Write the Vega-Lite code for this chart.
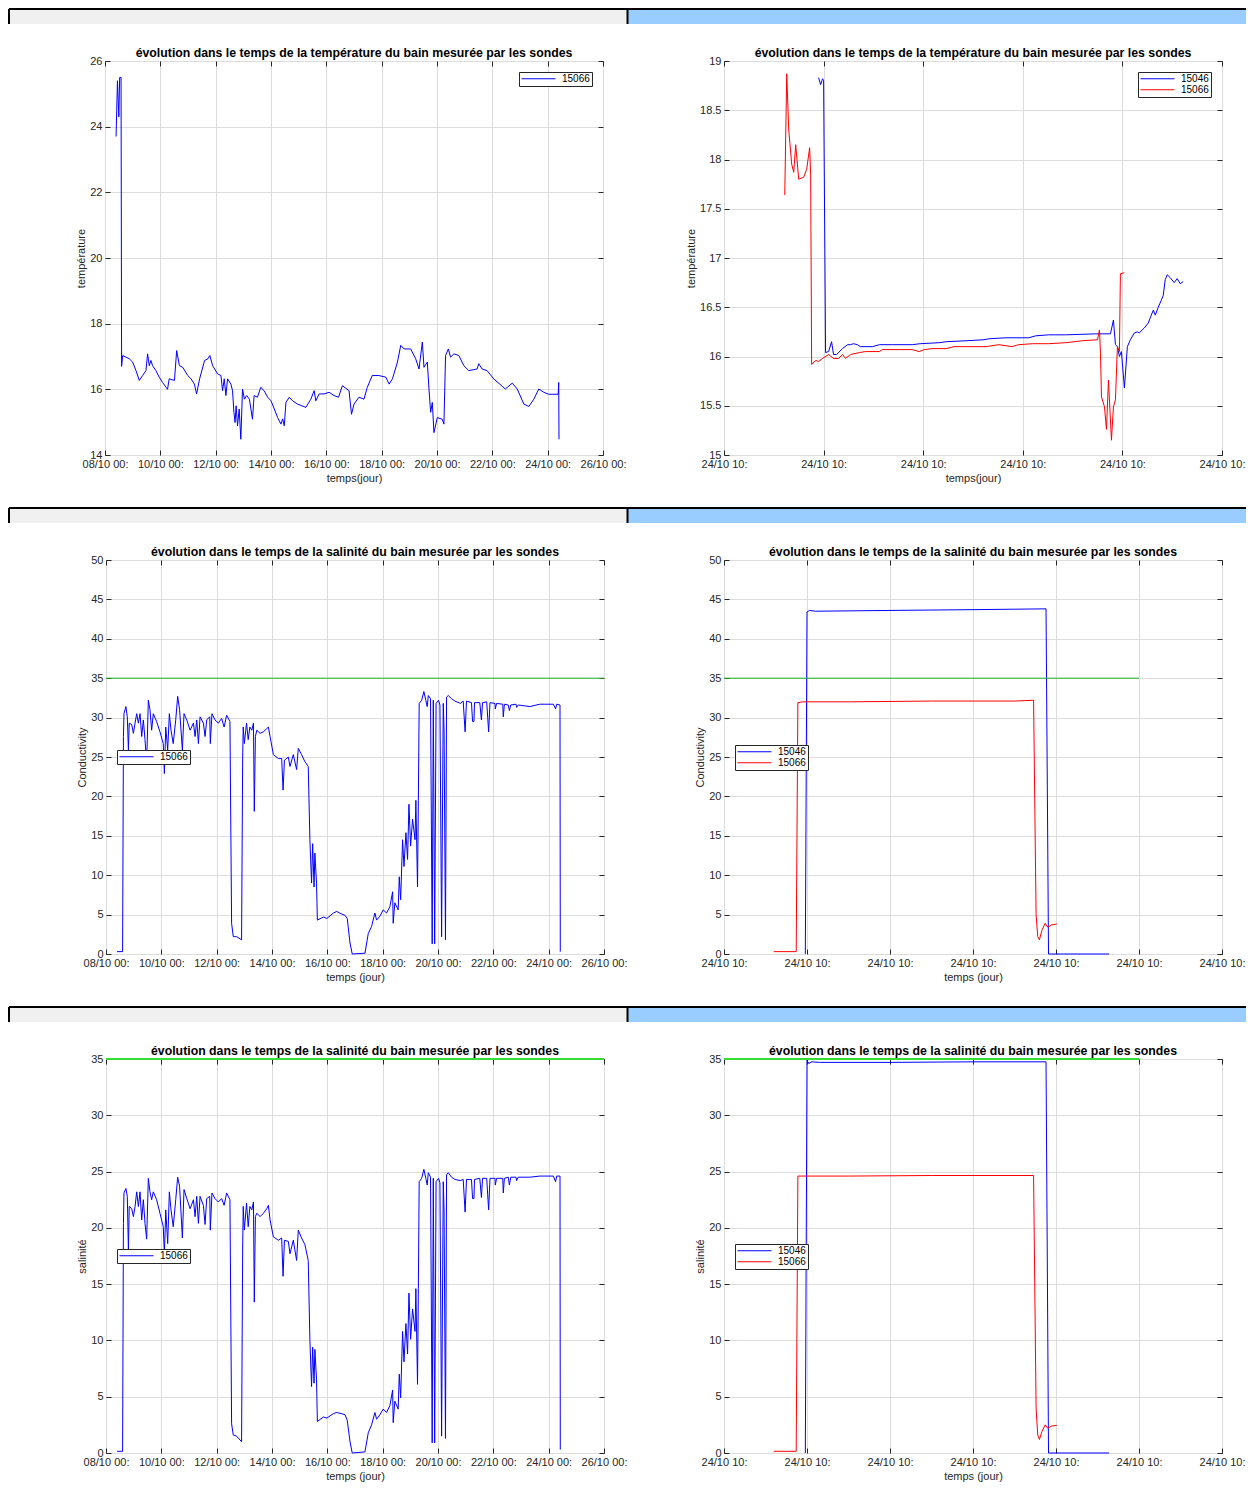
{
"$schema": "https://vega.github.io/schema/vega-lite/v6.json",
"background": "white",
"padding": {"left": 8, "top": 8, "right": 0, "bottom": 0},
"config": {
 "font": "Liberation Sans",
 "view": {"stroke": "#262626", "strokeWidth": 1},
 "axis": {"domain": false, "grid": true, "gridColor": "#dcdcdc", "gridWidth": 1, "tickColor": "#262626", "tickSize": -5, "tickWidth": 1, "labelFont": "Liberation Sans", "labelFontSize": 11, "labelColor": "#262626", "labelPadding": 8, "labelFlush": false, "labelOverlap": false, "titleFont": "Liberation Sans", "titleFontSize": 11, "titleFontWeight": "normal", "titleColor": "#262626", "titlePadding": 3, "format": "~g"},
 "title": {"font": "Liberation Sans", "fontSize": 12.3, "fontWeight": "bold", "color": "#000000", "offset": -4, "anchor": "middle"},
 "legend": {"strokeColor": "#262626", "fillColor": "white", "padding": 2, "symbolSize": 1156, "symbolStrokeWidth": 1, "labelFont": "Liberation Sans", "labelFontSize": 10, "labelColor": "#000000", "labelOffset": 6, "rowPadding": 0, "clipHeight": 9.5}
},
"datasets": {
 "tempG": [
  {"jour":0.40,"valeur":23.7},{"jour":0.45,"valeur":25.4},{"jour":0.50,"valeur":24.3},{"jour":0.53,"valeur":25.5},{"jour":0.58,"valeur":25.5},{"jour":0.60,"valeur":16.7},
  {"jour":0.64,"valeur":17.03},{"jour":0.88,"valeur":16.93},{"jour":1.00,"valeur":16.83},{"jour":1.12,"valeur":16.57},{"jour":1.24,"valeur":16.27},{"jour":1.36,"valeur":16.42},
  {"jour":1.48,"valeur":16.57},{"jour":1.54,"valeur":17.08},{"jour":1.60,"valeur":16.72},{"jour":1.66,"valeur":16.88},{"jour":1.72,"valeur":16.72},{"jour":1.84,"valeur":16.57},
  {"jour":1.96,"valeur":16.37},{"jour":2.08,"valeur":16.21},{"jour":2.26,"valeur":16.0},{"jour":2.32,"valeur":16.32},{"jour":2.51,"valeur":16.27},{"jour":2.59,"valeur":17.18},
  {"jour":2.69,"valeur":16.72},{"jour":2.81,"valeur":16.67},{"jour":2.99,"valeur":16.42},{"jour":3.11,"valeur":16.32},{"jour":3.23,"valeur":16.16},{"jour":3.31,"valeur":15.86},
  {"jour":3.42,"valeur":16.32},{"jour":3.60,"valeur":16.88},{"jour":3.72,"valeur":16.93},{"jour":3.79,"valeur":17.03},{"jour":3.89,"valeur":16.72},{"jour":4.07,"valeur":16.47},
  {"jour":4.19,"valeur":16.42},{"jour":4.25,"valeur":15.96},{"jour":4.31,"valeur":16.32},{"jour":4.37,"valeur":15.81},{"jour":4.43,"valeur":16.32},{"jour":4.55,"valeur":16.16},
  {"jour":4.61,"valeur":15.96},{"jour":4.66,"valeur":15.3},{"jour":4.70,"valeur":14.99},{"jour":4.74,"valeur":15.5},{"jour":4.79,"valeur":14.89},{"jour":4.85,"valeur":15.4},{"jour":4.91,"valeur":14.48},
  {"jour":4.97,"valeur":16.01},{"jour":5.04,"valeur":15.7},{"jour":5.12,"valeur":15.81},{"jour":5.22,"valeur":15.7},{"jour":5.33,"valeur":15.09},{"jour":5.39,"valeur":15.81},
  {"jour":5.51,"valeur":15.76},{"jour":5.63,"valeur":16.06},{"jour":5.75,"valeur":15.96},{"jour":5.88,"valeur":15.76},{"jour":6.00,"valeur":15.65},{"jour":6.12,"valeur":15.4},
  {"jour":6.24,"valeur":15.14},{"jour":6.36,"valeur":14.94},{"jour":6.42,"valeur":15.1},{"jour":6.48,"valeur":14.89},{"jour":6.54,"valeur":15.6},{"jour":6.66,"valeur":15.76},
  {"jour":6.78,"valeur":15.65},{"jour":6.96,"valeur":15.55},{"jour":7.26,"valeur":15.45},{"jour":7.44,"valeur":15.7},{"jour":7.56,"valeur":15.96},{"jour":7.62,"valeur":15.65},
  {"jour":7.74,"valeur":15.86},{"jour":7.92,"valeur":15.86},{"jour":8.10,"valeur":15.91},{"jour":8.28,"valeur":15.81},{"jour":8.44,"valeur":15.76},{"jour":8.58,"valeur":16.11},
  {"jour":8.82,"valeur":15.96},{"jour":8.91,"valeur":15.24},{"jour":9.00,"valeur":15.55},{"jour":9.18,"valeur":15.76},{"jour":9.36,"valeur":15.7},{"jour":9.48,"valeur":16.06},
  {"jour":9.66,"valeur":16.42},{"jour":9.90,"valeur":16.42},{"jour":10.15,"valeur":16.37},{"jour":10.27,"valeur":16.16},{"jour":10.39,"valeur":16.32},{"jour":10.57,"valeur":16.83},
  {"jour":10.69,"valeur":17.34},{"jour":10.81,"valeur":17.23},{"jour":11.05,"valeur":17.23},{"jour":11.23,"valeur":16.93},{"jour":11.35,"valeur":16.62},{"jour":11.47,"valeur":17.44},
  {"jour":11.53,"valeur":16.67},{"jour":11.65,"valeur":16.83},{"jour":11.71,"valeur":16.01},{"jour":11.77,"valeur":15.3},{"jour":11.83,"valeur":15.6},{"jour":11.89,"valeur":14.68},{"jour":12.01,"valeur":15.14},
  {"jour":12.19,"valeur":15.09},{"jour":12.25,"valeur":14.94},{"jour":12.31,"valeur":17.03},{"jour":12.41,"valeur":17.23},{"jour":12.49,"valeur":16.98},{"jour":12.61,"valeur":17.08},
  {"jour":12.79,"valeur":17.03},{"jour":12.97,"valeur":16.72},{"jour":13.15,"valeur":16.57},{"jour":13.45,"valeur":16.62},{"jour":13.51,"valeur":16.78},{"jour":13.63,"valeur":16.62},
  {"jour":13.81,"valeur":16.57},{"jour":14.05,"valeur":16.32},{"jour":14.47,"valeur":16.01},{"jour":14.72,"valeur":16.19},{"jour":14.90,"valeur":16.01},{"jour":15.14,"valeur":15.55},
  {"jour":15.32,"valeur":15.48},{"jour":15.50,"valeur":15.7},{"jour":15.68,"valeur":16.01},{"jour":15.86,"valeur":15.91},{"jour":16.04,"valeur":15.85},{"jour":16.38,"valeur":15.85},
  {"jour":16.40,"valeur":16.21},{"jour":16.41,"valeur":14.48}
 ],
 "condG": [
  {"jour":0.40,"valeur":0.3},{"jour":0.60,"valeur":0.3},{"jour":0.63,"valeur":27.6},{"jour":0.65,"valeur":30.5},{"jour":0.72,"valeur":31.4},{"jour":0.77,"valeur":30.1},
  {"jour":0.81,"valeur":25.9},{"jour":0.84,"valeur":29.3},{"jour":0.93,"valeur":29.1},{"jour":0.99,"valeur":28.0},{"jour":1.05,"valeur":29.3},{"jour":1.11,"valeur":30.5},
  {"jour":1.17,"valeur":29.3},{"jour":1.23,"valeur":30.5},{"jour":1.29,"valeur":27.6},{"jour":1.35,"valeur":29.7},{"jour":1.41,"valeur":27.2},{"jour":1.47,"valeur":24.2},
  {"jour":1.53,"valeur":32.2},{"jour":1.59,"valeur":31.0},{"jour":1.65,"valeur":28.4},{"jour":1.71,"valeur":30.5},{"jour":1.83,"valeur":29.5},{"jour":1.95,"valeur":28.2},
  {"jour":2.07,"valeur":26.7},{"jour":2.11,"valeur":22.9},{"jour":2.16,"valeur":28.8},{"jour":2.23,"valeur":25.9},{"jour":2.29,"valeur":30.5},{"jour":2.35,"valeur":28.4},
  {"jour":2.43,"valeur":26.7},{"jour":2.52,"valeur":29.7},{"jour":2.59,"valeur":32.7},{"jour":2.66,"valeur":31.0},{"jour":2.76,"valeur":25.9},{"jour":2.82,"valeur":30.5},
  {"jour":2.92,"valeur":29.7},{"jour":3.04,"valeur":28.4},{"jour":3.16,"valeur":29.3},{"jour":3.22,"valeur":27.6},{"jour":3.28,"valeur":29.7},{"jour":3.34,"valeur":26.7},
  {"jour":3.40,"valeur":30.1},{"jour":3.52,"valeur":29.3},{"jour":3.58,"valeur":27.6},{"jour":3.64,"valeur":29.7},{"jour":3.75,"valeur":30.1},{"jour":3.77,"valeur":26.7},
  {"jour":3.83,"valeur":30.5},{"jour":3.94,"valeur":29.7},{"jour":4.06,"valeur":29.3},{"jour":4.18,"valeur":29.9},{"jour":4.27,"valeur":28.8},{"jour":4.36,"valeur":30.3},
  {"jour":4.48,"valeur":29.5},{"jour":4.54,"valeur":3.9},{"jour":4.60,"valeur":2.2},{"jour":4.72,"valeur":2.2},{"jour":4.90,"valeur":1.8},{"jour":4.94,"valeur":25.0},
  {"jour":4.96,"valeur":28.8},{"jour":5.00,"valeur":26.7},{"jour":5.08,"valeur":29.3},{"jour":5.14,"valeur":27.2},{"jour":5.20,"valeur":28.8},{"jour":5.27,"valeur":28.4},
  {"jour":5.33,"valeur":29.3},{"jour":5.36,"valeur":18.1},{"jour":5.40,"valeur":27.6},{"jour":5.45,"valeur":28.4},{"jour":5.57,"valeur":28.0},{"jour":5.69,"valeur":28.2},
  {"jour":5.81,"valeur":28.6},{"jour":5.87,"valeur":28.8},{"jour":5.93,"valeur":27.6},{"jour":6.05,"valeur":25.3},{"jour":6.23,"valeur":24.8},{"jour":6.35,"valeur":24.8},
  {"jour":6.40,"valeur":20.8},{"jour":6.45,"valeur":24.6},{"jour":6.59,"valeur":25.0},{"jour":6.65,"valeur":23.8},{"jour":6.77,"valeur":25.3},{"jour":6.89,"valeur":23.4},
  {"jour":6.95,"valeur":26.1},{"jour":7.07,"valeur":25.3},{"jour":7.19,"valeur":24.4},{"jour":7.31,"valeur":23.8},{"jour":7.37,"valeur":14.5},{"jour":7.43,"valeur":9.0},
  {"jour":7.47,"valeur":14.0},{"jour":7.52,"valeur":8.5},{"jour":7.55,"valeur":12.8},{"jour":7.61,"valeur":9.0},{"jour":7.64,"valeur":4.3},{"jour":7.86,"valeur":4.7},
  {"jour":7.98,"valeur":4.5},{"jour":8.22,"valeur":5.2},{"jour":8.34,"valeur":5.4},{"jour":8.50,"valeur":5.1},{"jour":8.64,"valeur":4.9},{"jour":8.72,"valeur":4.5},
  {"jour":8.82,"valeur":1.4},{"jour":8.90,"valeur":0.0},{"jour":9.36,"valeur":0.1},{"jour":9.48,"valeur":2.6},{"jour":9.60,"valeur":3.5},{"jour":9.72,"valeur":5.2},
  {"jour":9.78,"valeur":4.3},{"jour":9.90,"valeur":4.8},{"jour":10.02,"valeur":5.6},{"jour":10.14,"valeur":5.2},{"jour":10.26,"valeur":6.0},{"jour":10.36,"valeur":7.9},
  {"jour":10.38,"valeur":3.9},{"jour":10.44,"valeur":6.5},{"jour":10.56,"valeur":5.6},{"jour":10.60,"valeur":9.8},{"jour":10.65,"valeur":6.9},{"jour":10.72,"valeur":14.5},
  {"jour":10.77,"valeur":11.1},{"jour":10.84,"valeur":15.4},{"jour":10.90,"valeur":12.0},{"jour":10.95,"valeur":19.0},{"jour":11.01,"valeur":13.7},{"jour":11.08,"valeur":17.1},
  {"jour":11.17,"valeur":14.5},{"jour":11.20,"valeur":19.5},{"jour":11.26,"valeur":8.5},{"jour":11.29,"valeur":19.5},{"jour":11.32,"valeur":31.8},{"jour":11.41,"valeur":32.2},
  {"jour":11.49,"valeur":33.3},{"jour":11.56,"valeur":32.2},{"jour":11.61,"valeur":31.4},{"jour":11.65,"valeur":32.8},{"jour":11.73,"valeur":32.4},{"jour":11.79,"valeur":1.3},
  {"jour":11.83,"valeur":32.2},{"jour":11.88,"valeur":1.3},{"jour":11.93,"valeur":31.8},{"jour":12.02,"valeur":32.2},{"jour":12.07,"valeur":31.6},{"jour":12.13,"valeur":2.2},
  {"jour":12.19,"valeur":31.8},{"jour":12.22,"valeur":28.4},{"jour":12.27,"valeur":1.8},{"jour":12.31,"valeur":32.6},{"jour":12.37,"valeur":32.8},{"jour":12.49,"valeur":32.4},
  {"jour":12.61,"valeur":32.1},{"jour":12.81,"valeur":31.8},{"jour":12.91,"valeur":32.1},{"jour":12.98,"valeur":28.2},{"jour":13.03,"valeur":32.1},{"jour":13.21,"valeur":31.9},
  {"jour":13.25,"valeur":29.5},{"jour":13.30,"valeur":29.5},{"jour":13.32,"valeur":31.9},{"jour":13.51,"valeur":31.9},{"jour":13.57,"valeur":29.7},{"jour":13.61,"valeur":31.9},
  {"jour":13.76,"valeur":32.0},{"jour":13.83,"valeur":28.2},{"jour":13.88,"valeur":31.9},{"jour":14.06,"valeur":31.8},{"jour":14.07,"valeur":31.1},{"jour":14.12,"valeur":31.8},
  {"jour":14.34,"valeur":31.7},{"jour":14.36,"valeur":30.1},{"jour":14.40,"valeur":31.7},{"jour":14.54,"valeur":31.6},{"jour":14.58,"valeur":30.9},{"jour":14.63,"valeur":31.6},
  {"jour":14.82,"valeur":31.7},{"jour":14.84,"valeur":31.3},{"jour":14.90,"valeur":31.6},{"jour":15.32,"valeur":31.4},{"jour":15.68,"valeur":31.7},{"jour":16.17,"valeur":31.7},
  {"jour":16.25,"valeur":31.1},{"jour":16.29,"valeur":31.7},{"jour":16.41,"valeur":31.6},{"jour":16.42,"valeur":0.3}
 ],
 "salG": [
  {"jour":0.40,"valeur":0.15},{"jour":0.60,"valeur":0.15},{"jour":0.63,"valeur":20.4},{"jour":0.65,"valeur":23.1},{"jour":0.72,"valeur":23.5},{"jour":0.77,"valeur":22.8},
  {"jour":0.81,"valeur":18.0},{"jour":0.84,"valeur":21.9},{"jour":0.93,"valeur":21.7},{"jour":0.99,"valeur":21.0},{"jour":1.05,"valeur":21.9},{"jour":1.11,"valeur":23.2},
  {"jour":1.17,"valeur":21.9},{"jour":1.23,"valeur":23.2},{"jour":1.29,"valeur":20.7},{"jour":1.35,"valeur":22.5},{"jour":1.41,"valeur":20.4},{"jour":1.47,"valeur":19.0},
  {"jour":1.53,"valeur":24.4},{"jour":1.59,"valeur":23.2},{"jour":1.65,"valeur":22.5},{"jour":1.71,"valeur":23.2},{"jour":1.83,"valeur":22.5},{"jour":1.95,"valeur":21.3},
  {"jour":2.07,"valeur":20.1},{"jour":2.11,"valeur":17.6},{"jour":2.16,"valeur":21.6},{"jour":2.23,"valeur":18.6},{"jour":2.29,"valeur":23.2},{"jour":2.35,"valeur":21.6},
  {"jour":2.43,"valeur":20.1},{"jour":2.52,"valeur":22.5},{"jour":2.59,"valeur":24.5},{"jour":2.66,"valeur":23.7},{"jour":2.76,"valeur":19.1},{"jour":2.82,"valeur":23.4},
  {"jour":2.92,"valeur":22.6},{"jour":3.04,"valeur":21.7},{"jour":3.16,"valeur":22.5},{"jour":3.22,"valeur":21.0},{"jour":3.28,"valeur":22.8},{"jour":3.34,"valeur":20.4},
  {"jour":3.40,"valeur":22.8},{"jour":3.52,"valeur":22.0},{"jour":3.58,"valeur":20.3},{"jour":3.64,"valeur":22.6},{"jour":3.75,"valeur":22.8},{"jour":3.77,"valeur":19.8},
  {"jour":3.83,"valeur":23.1},{"jour":3.94,"valeur":22.6},{"jour":4.06,"valeur":22.3},{"jour":4.18,"valeur":22.6},{"jour":4.27,"valeur":22.0},{"jour":4.36,"valeur":23.1},
  {"jour":4.48,"valeur":22.5},{"jour":4.54,"valeur":2.6},{"jour":4.60,"valeur":1.6},{"jour":4.72,"valeur":1.5},{"jour":4.90,"valeur":1.0},{"jour":4.94,"valeur":18.3},
  {"jour":4.96,"valeur":21.9},{"jour":5.00,"valeur":19.8},{"jour":5.08,"valeur":22.2},{"jour":5.14,"valeur":20.1},{"jour":5.20,"valeur":21.9},{"jour":5.27,"valeur":21.6},
  {"jour":5.33,"valeur":22.3},{"jour":5.36,"valeur":13.4},{"jour":5.40,"valeur":21.0},{"jour":5.45,"valeur":21.3},{"jour":5.57,"valeur":21.0},{"jour":5.69,"valeur":21.3},
  {"jour":5.81,"valeur":21.7},{"jour":5.87,"valeur":22.0},{"jour":5.93,"valeur":20.7},{"jour":6.05,"valeur":19.2},{"jour":6.23,"valeur":18.9},{"jour":6.35,"valeur":19.1},
  {"jour":6.40,"valeur":15.7},{"jour":6.45,"valeur":18.9},{"jour":6.59,"valeur":18.8},{"jour":6.65,"valeur":17.7},{"jour":6.77,"valeur":18.9},{"jour":6.89,"valeur":17.1},
  {"jour":6.95,"valeur":19.8},{"jour":7.07,"valeur":19.1},{"jour":7.19,"valeur":18.5},{"jour":7.31,"valeur":17.1},{"jour":7.37,"valeur":10.0},{"jour":7.43,"valeur":5.9},
  {"jour":7.47,"valeur":9.4},{"jour":7.52,"valeur":6.2},{"jour":7.55,"valeur":9.2},{"jour":7.61,"valeur":6.5},{"jour":7.64,"valeur":2.8},{"jour":7.86,"valeur":3.2},
  {"jour":7.98,"valeur":3.1},{"jour":8.22,"valeur":3.5},{"jour":8.34,"valeur":3.6},{"jour":8.50,"valeur":3.5},{"jour":8.64,"valeur":3.4},{"jour":8.72,"valeur":2.9},
  {"jour":8.82,"valeur":1.0},{"jour":8.90,"valeur":0.0},{"jour":9.36,"valeur":0.1},{"jour":9.48,"valeur":1.8},{"jour":9.60,"valeur":2.5},{"jour":9.72,"valeur":3.6},
  {"jour":9.78,"valeur":3.0},{"jour":9.90,"valeur":3.4},{"jour":10.02,"valeur":3.9},{"jour":10.14,"valeur":3.6},{"jour":10.26,"valeur":4.2},{"jour":10.36,"valeur":5.6},
  {"jour":10.38,"valeur":2.7},{"jour":10.44,"valeur":4.6},{"jour":10.56,"valeur":3.9},{"jour":10.60,"valeur":7.0},{"jour":10.65,"valeur":4.9},{"jour":10.72,"valeur":10.8},
  {"jour":10.77,"valeur":8.1},{"jour":10.84,"valeur":11.5},{"jour":10.90,"valeur":8.8},{"jour":10.95,"valeur":14.2},{"jour":11.01,"valeur":10.1},{"jour":11.08,"valeur":12.8},
  {"jour":11.17,"valeur":10.8},{"jour":11.20,"valeur":14.6},{"jour":11.26,"valeur":6.1},{"jour":11.29,"valeur":14.6},{"jour":11.32,"valeur":24.1},{"jour":11.41,"valeur":24.4},
  {"jour":11.49,"valeur":25.2},{"jour":11.56,"valeur":24.4},{"jour":11.61,"valeur":23.8},{"jour":11.65,"valeur":24.9},{"jour":11.73,"valeur":24.5},{"jour":11.79,"valeur":0.9},
  {"jour":11.83,"valeur":24.4},{"jour":11.88,"valeur":0.9},{"jour":11.93,"valeur":24.1},{"jour":12.02,"valeur":24.4},{"jour":12.07,"valeur":24.0},{"jour":12.13,"valeur":1.5},
  {"jour":12.19,"valeur":24.1},{"jour":12.22,"valeur":21.5},{"jour":12.27,"valeur":1.3},{"jour":12.31,"valeur":24.7},{"jour":12.37,"valeur":24.9},{"jour":12.49,"valeur":24.5},
  {"jour":12.61,"valeur":24.3},{"jour":12.81,"valeur":24.2},{"jour":12.91,"valeur":24.3},{"jour":12.98,"valeur":21.4},{"jour":13.03,"valeur":24.3},{"jour":13.21,"valeur":24.3},
  {"jour":13.25,"valeur":22.6},{"jour":13.30,"valeur":22.6},{"jour":13.32,"valeur":24.3},{"jour":13.51,"valeur":24.4},{"jour":13.57,"valeur":22.7},{"jour":13.61,"valeur":24.4},
  {"jour":13.76,"valeur":24.4},{"jour":13.83,"valeur":21.6},{"jour":13.88,"valeur":24.4},{"jour":14.06,"valeur":24.4},{"jour":14.07,"valeur":23.8},{"jour":14.12,"valeur":24.4},
  {"jour":14.34,"valeur":24.4},{"jour":14.36,"valeur":23.1},{"jour":14.40,"valeur":24.4},{"jour":14.54,"valeur":24.5},{"jour":14.58,"valeur":23.8},{"jour":14.63,"valeur":24.5},
  {"jour":14.82,"valeur":24.5},{"jour":14.84,"valeur":24.2},{"jour":14.90,"valeur":24.5},{"jour":15.32,"valeur":24.5},{"jour":15.68,"valeur":24.6},{"jour":16.17,"valeur":24.6},
  {"jour":16.25,"valeur":24.1},{"jour":16.29,"valeur":24.6},{"jour":16.41,"valeur":24.6},{"jour":16.42,"valeur":0.3}
 ],
 "tempD": [
  {"temps":0.95,"sonde":"15046","valeur":18.83},{"temps":0.97,"sonde":"15046","valeur":18.76},{"temps":0.99,"sonde":"15046","valeur":18.82},{"temps":1.00,"sonde":"15046","valeur":18.8},
  {"temps":1.02,"sonde":"15046","valeur":16.04},{"temps":1.05,"sonde":"15046","valeur":16.05},{"temps":1.08,"sonde":"15046","valeur":16.15},{"temps":1.10,"sonde":"15046","valeur":16.02},
  {"temps":1.13,"sonde":"15046","valeur":16.02},{"temps":1.19,"sonde":"15046","valeur":16.08},{"temps":1.24,"sonde":"15046","valeur":16.12},{"temps":1.27,"sonde":"15046","valeur":16.12},
  {"temps":1.30,"sonde":"15046","valeur":16.13},{"temps":1.34,"sonde":"15046","valeur":16.12},{"temps":1.37,"sonde":"15046","valeur":16.1},{"temps":1.49,"sonde":"15046","valeur":16.1},
  {"temps":1.56,"sonde":"15046","valeur":16.12},{"temps":1.69,"sonde":"15046","valeur":16.12},{"temps":1.89,"sonde":"15046","valeur":16.12},{"temps":1.97,"sonde":"15046","valeur":16.13},
  {"temps":2.16,"sonde":"15046","valeur":16.14},{"temps":2.23,"sonde":"15046","valeur":16.15},{"temps":2.43,"sonde":"15046","valeur":16.16},{"temps":2.61,"sonde":"15046","valeur":16.17},
  {"temps":2.66,"sonde":"15046","valeur":16.18},{"temps":2.83,"sonde":"15046","valeur":16.19},{"temps":3.06,"sonde":"15046","valeur":16.19},{"temps":3.13,"sonde":"15046","valeur":16.21},
  {"temps":3.26,"sonde":"15046","valeur":16.22},{"temps":3.43,"sonde":"15046","valeur":16.22},{"temps":3.73,"sonde":"15046","valeur":16.23},{"temps":3.88,"sonde":"15046","valeur":16.23},
  {"temps":3.91,"sonde":"15046","valeur":16.37},{"temps":3.93,"sonde":"15046","valeur":16.12},{"temps":3.95,"sonde":"15046","valeur":16.1},{"temps":3.97,"sonde":"15046","valeur":16.0},
  {"temps":3.99,"sonde":"15046","valeur":16.05},{"temps":4.02,"sonde":"15046","valeur":15.68},{"temps":4.05,"sonde":"15046","valeur":16.1},{"temps":4.08,"sonde":"15046","valeur":16.17},
  {"temps":4.12,"sonde":"15046","valeur":16.24},{"temps":4.15,"sonde":"15046","valeur":16.25},{"temps":4.17,"sonde":"15046","valeur":16.24},{"temps":4.22,"sonde":"15046","valeur":16.29},
  {"temps":4.26,"sonde":"15046","valeur":16.34},{"temps":4.29,"sonde":"15046","valeur":16.42},{"temps":4.31,"sonde":"15046","valeur":16.47},{"temps":4.33,"sonde":"15046","valeur":16.42},
  {"temps":4.36,"sonde":"15046","valeur":16.5},{"temps":4.39,"sonde":"15046","valeur":16.57},{"temps":4.41,"sonde":"15046","valeur":16.62},{"temps":4.43,"sonde":"15046","valeur":16.78},
  {"temps":4.45,"sonde":"15046","valeur":16.83},{"temps":4.48,"sonde":"15046","valeur":16.8},{"temps":4.52,"sonde":"15046","valeur":16.75},{"temps":4.55,"sonde":"15046","valeur":16.79},
  {"temps":4.58,"sonde":"15046","valeur":16.74},{"temps":4.61,"sonde":"15046","valeur":16.76},
  {"temps":0.61,"sonde":"15066","valeur":17.64},{"temps":0.63,"sonde":"15066","valeur":18.87},{"temps":0.65,"sonde":"15066","valeur":18.3},{"temps":0.68,"sonde":"15066","valeur":17.95},
  {"temps":0.70,"sonde":"15066","valeur":17.87},{"temps":0.72,"sonde":"15066","valeur":18.15},{"temps":0.75,"sonde":"15066","valeur":17.8},{"temps":0.80,"sonde":"15066","valeur":17.82},
  {"temps":0.83,"sonde":"15066","valeur":17.9},{"temps":0.86,"sonde":"15066","valeur":18.12},{"temps":0.87,"sonde":"15066","valeur":17.85},{"temps":0.88,"sonde":"15066","valeur":15.92},
  {"temps":0.92,"sonde":"15066","valeur":15.96},{"temps":0.95,"sonde":"15066","valeur":15.95},{"temps":0.99,"sonde":"15066","valeur":15.98},{"temps":1.05,"sonde":"15066","valeur":16.02},
  {"temps":1.10,"sonde":"15066","valeur":15.98},{"temps":1.15,"sonde":"15066","valeur":15.98},{"temps":1.19,"sonde":"15066","valeur":16.02},{"temps":1.22,"sonde":"15066","valeur":15.98},
  {"temps":1.27,"sonde":"15066","valeur":16.02},{"temps":1.36,"sonde":"15066","valeur":16.04},{"temps":1.42,"sonde":"15066","valeur":16.05},{"temps":1.56,"sonde":"15066","valeur":16.05},
  {"temps":1.59,"sonde":"15066","valeur":16.07},{"temps":1.76,"sonde":"15066","valeur":16.07},{"temps":1.89,"sonde":"15066","valeur":16.07},{"temps":1.96,"sonde":"15066","valeur":16.05},
  {"temps":2.01,"sonde":"15066","valeur":16.07},{"temps":2.09,"sonde":"15066","valeur":16.08},{"temps":2.23,"sonde":"15066","valeur":16.08},{"temps":2.31,"sonde":"15066","valeur":16.1},
  {"temps":2.39,"sonde":"15066","valeur":16.1},{"temps":2.53,"sonde":"15066","valeur":16.1},{"temps":2.63,"sonde":"15066","valeur":16.1},{"temps":2.76,"sonde":"15066","valeur":16.12},
  {"temps":2.89,"sonde":"15066","valeur":16.1},{"temps":2.96,"sonde":"15066","valeur":16.12},{"temps":3.10,"sonde":"15066","valeur":16.13},{"temps":3.26,"sonde":"15066","valeur":16.13},
  {"temps":3.43,"sonde":"15066","valeur":16.14},{"temps":3.60,"sonde":"15066","valeur":16.16},{"temps":3.75,"sonde":"15066","valeur":16.17},{"temps":3.77,"sonde":"15066","valeur":16.27},
  {"temps":3.78,"sonde":"15066","valeur":16.03},{"temps":3.79,"sonde":"15066","valeur":15.59},{"temps":3.82,"sonde":"15066","valeur":15.49},{"temps":3.84,"sonde":"15066","valeur":15.26},
  {"temps":3.86,"sonde":"15066","valeur":15.76},{"temps":3.89,"sonde":"15066","valeur":15.15},{"temps":3.91,"sonde":"15066","valeur":15.49},{"temps":3.93,"sonde":"15066","valeur":15.56},
  {"temps":3.95,"sonde":"15066","valeur":16.1},{"temps":3.97,"sonde":"15066","valeur":16.05},{"temps":3.98,"sonde":"15066","valeur":16.84},{"temps":4.02,"sonde":"15066","valeur":16.85}
 ],
 "condD": [
  {"temps":0.98,"sonde":"15046","valeur":0.0},{"temps":1.00,"sonde":"15046","valeur":43.4},{"temps":1.03,"sonde":"15046","valeur":43.6},{"temps":1.10,"sonde":"15046","valeur":43.5},
  {"temps":2.00,"sonde":"15046","valeur":43.6},{"temps":3.00,"sonde":"15046","valeur":43.7},{"temps":3.88,"sonde":"15046","valeur":43.8},{"temps":3.91,"sonde":"15046","valeur":0.0},
  {"temps":4.64,"sonde":"15046","valeur":0.0},
  {"temps":0.60,"sonde":"15066","valeur":0.3},{"temps":0.87,"sonde":"15066","valeur":0.3},{"temps":0.89,"sonde":"15066","valeur":31.9},{"temps":0.95,"sonde":"15066","valeur":32.0},
  {"temps":1.50,"sonde":"15066","valeur":32.0},{"temps":2.50,"sonde":"15066","valeur":32.1},{"temps":3.50,"sonde":"15066","valeur":32.1},{"temps":3.73,"sonde":"15066","valeur":32.2},
  {"temps":3.76,"sonde":"15066","valeur":5.0},{"temps":3.78,"sonde":"15066","valeur":2.2},{"temps":3.80,"sonde":"15066","valeur":1.8},{"temps":3.83,"sonde":"15066","valeur":3.0},
  {"temps":3.87,"sonde":"15066","valeur":3.9},{"temps":3.90,"sonde":"15066","valeur":3.4},{"temps":3.95,"sonde":"15066","valeur":3.7},{"temps":4.01,"sonde":"15066","valeur":3.8}
 ],
 "salD": [
  {"temps":0.98,"sonde":"15046","valeur":0.0},{"temps":1.00,"sonde":"15046","valeur":34.9},{"temps":1.02,"sonde":"15046","valeur":34.6},{"temps":1.06,"sonde":"15046","valeur":34.75},
  {"temps":1.15,"sonde":"15046","valeur":34.7},{"temps":2.00,"sonde":"15046","valeur":34.7},{"temps":3.00,"sonde":"15046","valeur":34.75},{"temps":3.88,"sonde":"15046","valeur":34.75},
  {"temps":3.91,"sonde":"15046","valeur":0.0},{"temps":4.64,"sonde":"15046","valeur":0.0},
  {"temps":0.60,"sonde":"15066","valeur":0.15},{"temps":0.87,"sonde":"15066","valeur":0.15},{"temps":0.89,"sonde":"15066","valeur":24.6},{"temps":1.50,"sonde":"15066","valeur":24.6},
  {"temps":2.50,"sonde":"15066","valeur":24.65},{"temps":3.73,"sonde":"15066","valeur":24.65},{"temps":3.76,"sonde":"15066","valeur":4.0},{"temps":3.78,"sonde":"15066","valeur":1.6},
  {"temps":3.80,"sonde":"15066","valeur":1.2},{"temps":3.83,"sonde":"15066","valeur":1.9},{"temps":3.87,"sonde":"15066","valeur":2.5},{"temps":3.90,"sonde":"15066","valeur":2.2},
  {"temps":3.95,"sonde":"15066","valeur":2.4},{"temps":4.01,"sonde":"15066","valeur":2.45}
 ]
},
"resolve": {"scale": {"color": "independent"}, "legend": {"color": "independent"}},
"spacing": 23,
"vconcat": [
 {"spacing": 21, "resolve": {"scale": {"color": "independent"}, "legend": {"color": "independent"}},
  "vconcat": [
   {"width": 1237, "height": 15, "view": {"stroke": null},
    "layer": [
     {"data": {"values": [{"partie": "gauche"}]}, "mark": {"type": "rect", "color": "#f0f0f0"}, "encoding": {"x": {"field": "partie", "type": "nominal", "scale": {"type": "band", "domain": ["gauche", "droite"], "paddingInner": 0, "paddingOuter": 0}, "axis": null}}},
     {"data": {"values": [{"partie": "droite"}]}, "mark": {"type": "rect", "color": "#99ccff"}, "encoding": {"x": {"field": "partie", "type": "nominal", "axis": null}}},
     {"data": {"values": [{"partie": "gauche"}, {"partie": "droite"}]}, "mark": {"type": "rule", "color": "#000000", "strokeWidth": 2}, "encoding": {"x": {"field": "partie", "type": "nominal", "bandPosition": 0, "axis": null}}},
     {"data": {"values": [{"partie": "gauche"}]}, "mark": {"type": "rule", "color": "#000000", "strokeWidth": 2}, "encoding": {"y": {"datum": 1, "type": "quantitative", "scale": {"domain": [0, 1]}, "axis": null}}}
    ]},
   {"spacing": 58, "resolve": {"scale": {"color": "independent"}, "legend": {"color": "independent"}},
    "hconcat": [
     {"width": 8, "height": 394, "view": {"stroke": null}, "data": {"values": []}, "mark": "point"},
     {"width": 498, "height": 394,
      "title": "évolution dans le temps de la température du bain mesurée par les sondes",
      "resolve": {"axis": {"x": "independent", "y": "independent"}},
      "layer": [
       {"data": {"name": "tempG"}, "mark": {"type": "line", "strokeWidth": 1},
        "encoding": {
         "x": {"field": "jour", "type": "quantitative", "scale": {"domain": [0, 18], "nice": false, "zero": false}, "axis": {"values": [0,2,4,6,8,10,12,14,16,18], "labelExpr": "timeFormat(datetime(2015, 9, 8 + datum.value), '%d/%m %H:')", "title": "temps(jour)"}},
         "y": {"field": "valeur", "type": "quantitative", "scale": {"domain": [14, 26], "nice": false, "zero": false}, "axis": {"values": [14,16,18,20,22,24,26], "title": "température"}},
         "color": {"datum": "15066", "scale": {"domain": ["15066"], "range": ["#0000ff"]}, "legend": {"title": null, "orient": "top-right", "offset": 11}}
        }},
       {"data": {"values": [{}]}, "mark": {"type": "point", "opacity": 0},
        "encoding": {
         "x": {"datum": 0, "type": "quantitative", "axis": {"orient": "top", "labels": false, "title": null, "grid": false, "values": [0,2,4,6,8,10,12,14,16,18]}},
         "y": {"datum": 14, "type": "quantitative", "axis": {"orient": "right", "labels": false, "title": null, "grid": false, "values": [14,16,18,20,22,24,26]}}
        }}
      ]},
     {"width": 498, "height": 394,
      "title": "évolution dans le temps de la température du bain mesurée par les sondes",
      "resolve": {"axis": {"x": "independent", "y": "independent"}},
      "layer": [
       {"data": {"name": "tempD"}, "mark": {"type": "line", "strokeWidth": 1},
        "encoding": {
         "x": {"field": "temps", "type": "quantitative", "scale": {"domain": [0, 5], "nice": false, "zero": false}, "axis": {"values": [0,1,2,3,4,5], "labelExpr": "'24/10 10:'", "title": "temps(jour)"}},
         "y": {"field": "valeur", "type": "quantitative", "scale": {"domain": [15, 19], "nice": false, "zero": false}, "axis": {"values": [15,15.5,16,16.5,17,17.5,18,18.5,19], "title": "température"}},
         "color": {"field": "sonde", "type": "nominal", "scale": {"domain": ["15046", "15066"], "range": ["#0000ff", "#ff0000"]}, "legend": {"title": null, "orient": "top-right", "offset": 11}}
        }},
       {"data": {"values": [{}]}, "mark": {"type": "point", "opacity": 0},
        "encoding": {
         "x": {"datum": 0, "type": "quantitative", "axis": {"orient": "top", "labels": false, "title": null, "grid": false, "values": [0,1,2,3,4,5]}},
         "y": {"datum": 15, "type": "quantitative", "axis": {"orient": "right", "labels": false, "title": null, "grid": false, "values": [15,15.5,16,16.5,17,17.5,18,18.5,19]}}
        }}
      ]}
    ]}
  ]},
 {"spacing": 21, "resolve": {"scale": {"color": "independent"}, "legend": {"color": "independent"}},
  "vconcat": [
   {"width": 1237, "height": 15, "view": {"stroke": null},
    "layer": [
     {"data": {"values": [{"partie": "gauche"}]}, "mark": {"type": "rect", "color": "#f0f0f0"}, "encoding": {"x": {"field": "partie", "type": "nominal", "scale": {"type": "band", "domain": ["gauche", "droite"], "paddingInner": 0, "paddingOuter": 0}, "axis": null}}},
     {"data": {"values": [{"partie": "droite"}]}, "mark": {"type": "rect", "color": "#99ccff"}, "encoding": {"x": {"field": "partie", "type": "nominal", "axis": null}}},
     {"data": {"values": [{"partie": "gauche"}, {"partie": "droite"}]}, "mark": {"type": "rule", "color": "#000000", "strokeWidth": 2}, "encoding": {"x": {"field": "partie", "type": "nominal", "bandPosition": 0, "axis": null}}},
     {"data": {"values": [{"partie": "gauche"}]}, "mark": {"type": "rule", "color": "#000000", "strokeWidth": 2}, "encoding": {"y": {"datum": 1, "type": "quantitative", "scale": {"domain": [0, 1]}, "axis": null}}}
    ]},
   {"spacing": 66, "resolve": {"scale": {"color": "independent"}, "legend": {"color": "independent"}},
    "hconcat": [
     {"width": 1, "height": 394, "view": {"stroke": null}, "data": {"values": []}, "mark": "point"},
     {"width": 498, "height": 394,
      "title": "évolution dans le temps de la salinité du bain mesurée par les sondes",
      "resolve": {"axis": {"x": "independent", "y": "independent"}},
      "layer": [
       {"data": {"name": "condG"}, "mark": {"type": "line", "strokeWidth": 1},
        "encoding": {
         "x": {"field": "jour", "type": "quantitative", "scale": {"domain": [0, 18], "nice": false, "zero": false}, "axis": {"values": [0,2,4,6,8,10,12,14,16,18], "labelExpr": "timeFormat(datetime(2015, 9, 8 + datum.value), '%d/%m %H:')", "title": "temps (jour)"}},
         "y": {"field": "valeur", "type": "quantitative", "scale": {"domain": [0, 50], "nice": false}, "axis": {"values": [0,5,10,15,20,25,30,35,40,45,50], "title": "Conductivity"}},
         "color": {"datum": "15066", "scale": {"domain": ["15066"], "range": ["#0000ff"]}, "legend": {"title": null, "orient": "none", "legendX": 11, "legendY": 190}}
        }},
       {"data": {"values": [{}]}, "mark": {"type": "rule", "color": "#1fb31f", "strokeWidth": 1},
        "encoding": {
         "y": {"datum": 35, "type": "quantitative", "axis": {"orient": "right", "labels": false, "title": null, "grid": false, "values": [0,5,10,15,20,25,30,35,40,45,50]}}
        }},
       {"data": {"values": [{}]}, "mark": {"type": "point", "opacity": 0},
        "encoding": {
         "x": {"datum": 0, "type": "quantitative", "axis": {"orient": "top", "labels": false, "title": null, "grid": false, "values": [0,2,4,6,8,10,12,14,16,18]}}
        }}
      ]},
     {"width": 498, "height": 394,
      "title": "évolution dans le temps de la salinité du bain mesurée par les sondes",
      "resolve": {"axis": {"x": "independent", "y": "independent"}},
      "layer": [
       {"data": {"name": "condD"}, "mark": {"type": "line", "strokeWidth": 1},
        "encoding": {
         "x": {"field": "temps", "type": "quantitative", "scale": {"domain": [0, 6], "nice": false, "zero": false}, "axis": {"values": [0,1,2,3,4,5,6], "labelExpr": "'24/10 10:'", "title": "temps (jour)"}},
         "y": {"field": "valeur", "type": "quantitative", "scale": {"domain": [0, 50], "nice": false}, "axis": {"values": [0,5,10,15,20,25,30,35,40,45,50], "title": "Conductivity"}},
         "color": {"field": "sonde", "type": "nominal", "scale": {"domain": ["15046", "15066"], "range": ["#0000ff", "#ff0000"]}, "legend": {"title": null, "orient": "none", "legendX": 11, "legendY": 185}}
        }},
       {"data": {"values": [{}]}, "mark": {"type": "rule", "color": "#1fb31f", "strokeWidth": 1},
        "encoding": {
         "x": {"datum": 0, "type": "quantitative", "axis": {"orient": "top", "labels": false, "title": null, "grid": false, "values": [0,1,2,3,4,5,6]}},
         "x2": {"datum": 5},
         "y": {"datum": 35, "type": "quantitative", "axis": {"orient": "right", "labels": false, "title": null, "grid": false, "values": [0,5,10,15,20,25,30,35,40,45,50]}}
        }}
      ]}
    ]}
  ]},
 {"spacing": 21, "resolve": {"scale": {"color": "independent"}, "legend": {"color": "independent"}},
  "vconcat": [
   {"width": 1237, "height": 15, "view": {"stroke": null},
    "layer": [
     {"data": {"values": [{"partie": "gauche"}]}, "mark": {"type": "rect", "color": "#f0f0f0"}, "encoding": {"x": {"field": "partie", "type": "nominal", "scale": {"type": "band", "domain": ["gauche", "droite"], "paddingInner": 0, "paddingOuter": 0}, "axis": null}}},
     {"data": {"values": [{"partie": "droite"}]}, "mark": {"type": "rect", "color": "#99ccff"}, "encoding": {"x": {"field": "partie", "type": "nominal", "axis": null}}},
     {"data": {"values": [{"partie": "gauche"}, {"partie": "droite"}]}, "mark": {"type": "rule", "color": "#000000", "strokeWidth": 2}, "encoding": {"x": {"field": "partie", "type": "nominal", "bandPosition": 0, "axis": null}}},
     {"data": {"values": [{"partie": "gauche"}]}, "mark": {"type": "rule", "color": "#000000", "strokeWidth": 2}, "encoding": {"y": {"datum": 1, "type": "quantitative", "scale": {"domain": [0, 1]}, "axis": null}}}
    ]},
   {"spacing": 66, "resolve": {"scale": {"color": "independent"}, "legend": {"color": "independent"}},
    "hconcat": [
     {"width": 1, "height": 394, "view": {"stroke": null}, "data": {"values": []}, "mark": "point"},
     {"width": 498, "height": 394,
      "title": "évolution dans le temps de la salinité du bain mesurée par les sondes",
      "resolve": {"axis": {"x": "independent", "y": "independent"}},
      "layer": [
       {"data": {"name": "salG"}, "mark": {"type": "line", "strokeWidth": 1},
        "encoding": {
         "x": {"field": "jour", "type": "quantitative", "scale": {"domain": [0, 18], "nice": false, "zero": false}, "axis": {"values": [0,2,4,6,8,10,12,14,16,18], "labelExpr": "timeFormat(datetime(2015, 9, 8 + datum.value), '%d/%m %H:')", "title": "temps (jour)"}},
         "y": {"field": "valeur", "type": "quantitative", "scale": {"domain": [0, 35], "nice": false}, "axis": {"values": [0,5,10,15,20,25,30,35], "title": "salinité"}},
         "color": {"datum": "15066", "scale": {"domain": ["15066"], "range": ["#0000ff"]}, "legend": {"title": null, "orient": "none", "legendX": 11, "legendY": 190}}
        }},
       {"data": {"values": [{}]}, "mark": {"type": "rule", "color": "#33dd33", "strokeWidth": 2},
        "encoding": {
         "y": {"datum": 35, "type": "quantitative", "axis": {"orient": "right", "labels": false, "title": null, "grid": false, "values": [0,5,10,15,20,25,30,35]}}
        }},
       {"data": {"values": [{}]}, "mark": {"type": "point", "opacity": 0},
        "encoding": {
         "x": {"datum": 0, "type": "quantitative", "axis": {"orient": "top", "labels": false, "title": null, "grid": false, "values": [0,2,4,6,8,10,12,14,16,18]}}
        }}
      ]},
     {"width": 498, "height": 394,
      "title": "évolution dans le temps de la salinité du bain mesurée par les sondes",
      "resolve": {"axis": {"x": "independent", "y": "independent"}},
      "layer": [
       {"data": {"name": "salD"}, "mark": {"type": "line", "strokeWidth": 1},
        "encoding": {
         "x": {"field": "temps", "type": "quantitative", "scale": {"domain": [0, 6], "nice": false, "zero": false}, "axis": {"values": [0,1,2,3,4,5,6], "labelExpr": "'24/10 10:'", "title": "temps (jour)"}},
         "y": {"field": "valeur", "type": "quantitative", "scale": {"domain": [0, 35], "nice": false}, "axis": {"values": [0,5,10,15,20,25,30,35], "title": "salinité"}},
         "color": {"field": "sonde", "type": "nominal", "scale": {"domain": ["15046", "15066"], "range": ["#0000ff", "#ff0000"]}, "legend": {"title": null, "orient": "none", "legendX": 11, "legendY": 185}}
        }},
       {"data": {"values": [{}]}, "mark": {"type": "rule", "color": "#33dd33", "strokeWidth": 2},
        "encoding": {
         "x": {"datum": 0, "type": "quantitative", "axis": {"orient": "top", "labels": false, "title": null, "grid": false, "values": [0,1,2,3,4,5,6]}},
         "x2": {"datum": 5},
         "y": {"datum": 35, "type": "quantitative", "axis": {"orient": "right", "labels": false, "title": null, "grid": false, "values": [0,5,10,15,20,25,30,35]}}
        }}
      ]}
    ]}
  ]}
]
}
